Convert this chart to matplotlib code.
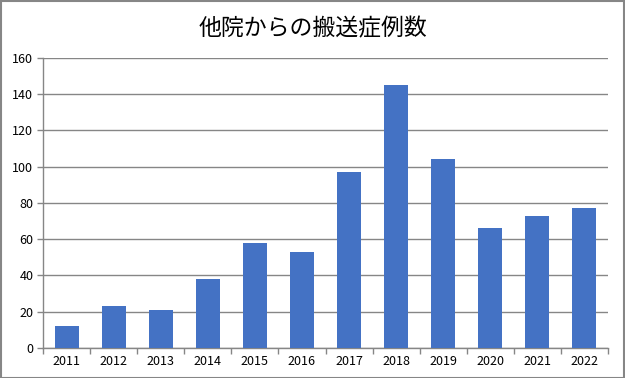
import matplotlib.pyplot as plt
import numpy as np

plt.rcParams['font.family'] = ['Noto Sans CJK JP', 'DejaVu Sans']

years = ['2011', '2012', '2013', '2014', '2015', '2016',
         '2017', '2018', '2019', '2020', '2021', '2022']
cases = [12, 23, 21, 38, 58, 53, 97, 145, 104, 66, 73, 77]
yticks = [0, 20, 40, 60, 80, 100, 120, 140, 160]

gray = '#868686'
fig = plt.figure(figsize=(6.25, 3.78), dpi=100)
ax = fig.add_axes([0.0688, 0.0794, 0.904, 0.7672])

x = np.arange(len(years))
ax.bar(x, cases, width=0.51, color='#4472C4', zorder=3)

ax.set_ylim(0, 160)
ax.set_xlim(-0.5, len(years) - 0.5)
ax.set_yticks(yticks)
ax.set_yticklabels([str(v) for v in yticks])
ax.set_xticks(x)
ax.set_xticklabels(years)
ax.set_xticks(np.arange(len(years) + 1) - 0.5, minor=True)
ax.tick_params(axis='x', which='major', length=0, pad=5, labelsize=9)
ax.tick_params(axis='x', which='minor', length=4, color=gray, width=1)
ax.tick_params(axis='y', length=4, color=gray, width=1, labelsize=9, pad=3)

ax.grid(axis='y', color=gray, lw=1, zorder=0)
for s in ['top', 'right']:
    ax.spines[s].set_visible(False)
for s in ['left', 'bottom']:
    ax.spines[s].set_color(gray)
    ax.spines[s].set_linewidth(1)

fig.text(0.5, 0.925, '他院からの搬送症例数', ha='center', va='center', fontsize=16.5)

fig.patches.append(plt.Rectangle((0.001, 0.001), 0.997, 0.997, transform=fig.transFigure,
                                 fill=False, edgecolor=gray, lw=1.5))

fig.savefig('out.png', dpi=100)
